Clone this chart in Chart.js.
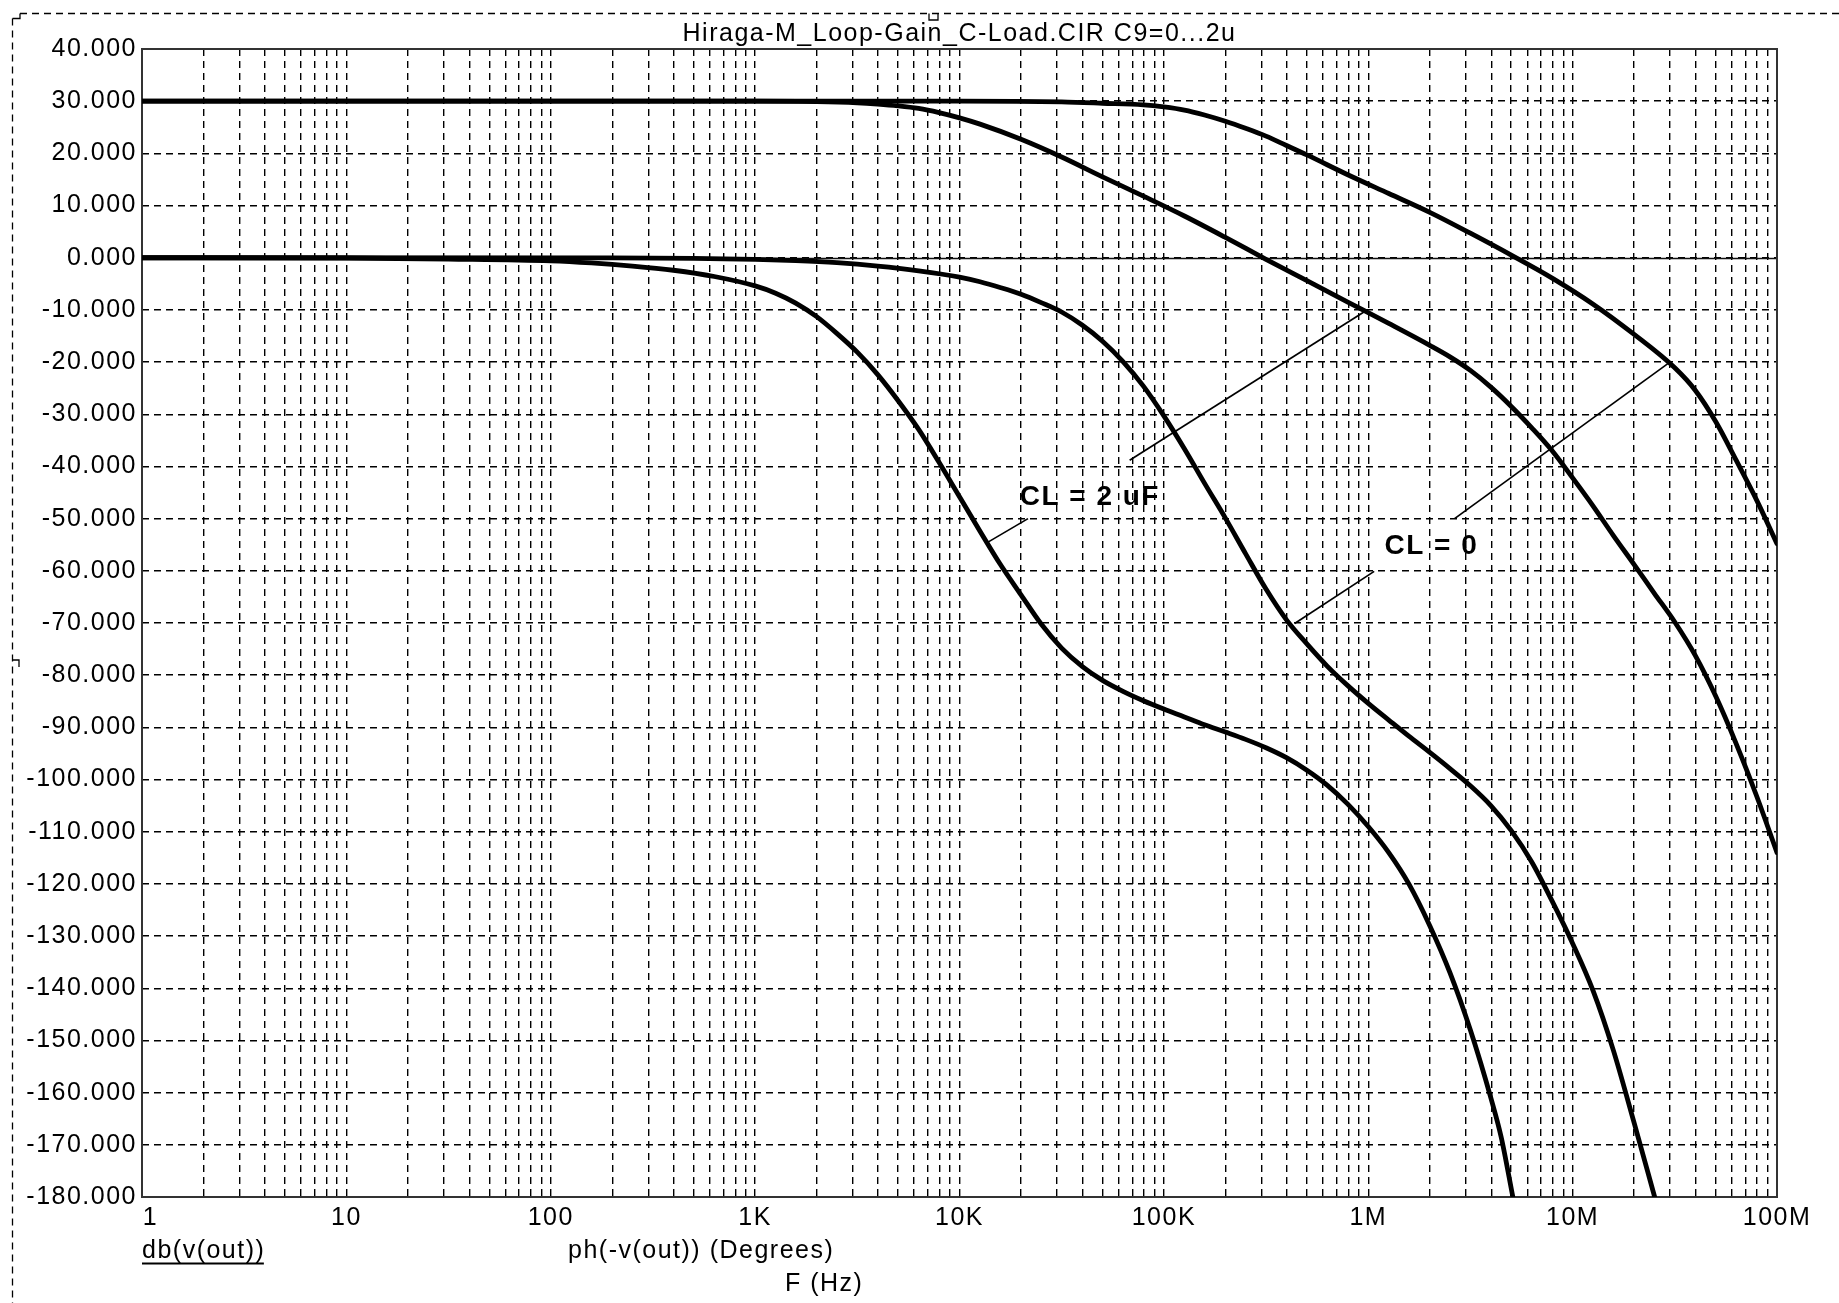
<!DOCTYPE html>
<html><head><meta charset="utf-8">
<script src="https://cdn.jsdelivr.net/npm/chart.js@4.4.1/dist/chart.umd.min.js"></script>
<style>html,body{margin:0;padding:0;background:#fff;overflow:hidden}canvas{display:block}</style>
</head><body>
<canvas id="c" width="1839" height="1303"></canvas>
<script>
// ---------- texts ----------
const chartTitle = 'Hiraga-M_Loop-Gain_C-Load.CIR C9=0...2u';
const xTickLabels = ['1','10','100','1K','10K','100K','1M','10M','100M'];
const traceNames = ['db(v(out))', 'ph(-v(out)) (Degrees)'];
const xAxisTitle = 'F (Hz)';

// ---------- data (F in Hz, values in dB / degrees) ----------
const gainCL0Freq = [1, 1e4, 3.16e4, 5.01e4, 7.94e4, 1e5, 1.26e5, 1.58e5, 2e5, 2.51e5, 3.16e5, 3.98e5, 5.01e5, 7.94e5, 1.26e6, 2e6, 3.16e6, 5.01e6, 7.94e6, 1.26e7, 2e7, 3.16e7, 3.98e7, 5.01e7, 6.31e7, 7.94e7, 1e8];
const gainCL0Db   = [30, 30, 29.85, 29.6, 29.3, 28.9, 28.3, 27.35, 26.15, 24.8, 23.3, 21.5, 19.7, 15.9, 12.3, 8.7, 4.7, 0.5, -3.9, -8.9, -14.7, -21.1, -25.4, -31.4, -38.8, -46.4, -54.8];

const gainCL2uFreq = [1, 1e3, 2e3, 3.16e3, 3.98e3, 5.01e3, 6.31e3, 7.94e3, 1e4, 1.26e4, 2e4, 3.16e4, 5.01e4, 7.94e4, 1.26e5, 2e5, 3.16e5, 5.01e5, 7.94e5, 1.26e6, 2e6, 2.51e6, 3.16e6, 3.98e6, 5.01e6, 6.31e6, 7.94e6, 1e7, 1.26e7, 1.58e7, 2e7, 2.51e7, 3.16e7, 3.98e7, 5.01e7, 6.31e7, 7.94e7, 1e8];
const gainCL2uDb   = [30, 30, 29.93, 29.7, 29.45, 29.1, 28.6, 27.8, 26.8, 25.6, 22.7, 19.3, 15.5, 11.8, 8.0, 3.9, -0.3, -4.4, -8.5, -12.6, -16.8, -19.0, -21.6, -24.8, -28.5, -32.6, -37.0, -42.2, -47.6, -53.2, -58.8, -64.3, -69.8, -76.2, -84.0, -93.1, -103.1, -114.0];

const phaseCL0Freq = [1, 200, 501, 1e3, 1.58e3, 2.51e3, 3.98e3, 6.31e3, 1e4, 1.26e4, 1.58e4, 2e4, 2.51e4, 3.16e4, 3.98e4, 5.01e4, 6.31e4, 7.94e4, 1e5, 1.26e5, 1.58e5, 2e5, 2.51e5, 3.16e5, 3.98e5, 5.01e5, 6.31e5, 7.94e5, 1e6, 1.26e6, 1.58e6, 2e6, 2.51e6, 3.16e6, 3.98e6, 5.01e6, 6.31e6, 7.94e6, 1e7, 1.26e7, 1.58e7, 2e7, 2.52e7];
const phaseCL0Deg  = [0, -0.03, -0.12, -0.3, -0.55, -0.95, -1.6, -2.5, -3.7, -4.6, -5.7, -7.0, -8.6, -10.4, -12.9, -16.0, -19.9, -24.6, -30.3, -36.6, -43.2, -49.9, -56.7, -63.5, -69.4, -74.0, -78.3, -82.0, -85.4, -88.6, -91.7, -94.8, -97.9, -101.2, -105.0, -109.8, -115.8, -123.3, -131.4, -140.5, -151.8, -165.8, -180];

const phaseCL2uFreq = [1, 10, 31.6, 100, 158, 251, 398, 631, 1e3, 1.26e3, 1.58e3, 2e3, 2.51e3, 3.16e3, 3.98e3, 5.01e3, 6.31e3, 7.94e3, 1e4, 1.26e4, 1.58e4, 2e4, 2.51e4, 3.16e4, 3.98e4, 5.01e4, 6.31e4, 7.94e4, 1e5, 1.26e5, 1.58e5, 2e5, 2.51e5, 3.16e5, 3.98e5, 5.01e5, 6.31e5, 7.94e5, 1e6, 1.26e6, 1.58e6, 2e6, 2.51e6, 3.16e6, 3.98e6, 4.47e6, 5.1e6];
const phaseCL2uDeg  = [0, -0.05, -0.25, -0.6, -1.0, -1.6, -2.4, -3.6, -5.4, -6.8, -8.7, -11.3, -14.5, -18.1, -22.4, -27.4, -32.9, -39.2, -45.8, -52.4, -58.7, -64.6, -70.2, -74.8, -78.3, -81.0, -83.1, -84.9, -86.5, -88.0, -89.5, -90.9, -92.3, -93.9, -95.8, -98.2, -101.1, -104.7, -109.0, -114.0, -120.0, -128.0, -137.0, -148.0, -161.0, -168.5, -180];

// ---------- annotations (data coordinates) ----------
const noteTexts = ['CL = 2 uF', 'CL = 0'];
const noteAnchors = [[1.97e4, -46.0], [1.2e6, -55.3]];
const leaderStarts = [[6.80e4, -38.8], [2.164e4, -50.0], [2.645e6, -50.0], [1.069e6, -60.1]];
const leaderEnds   = [[9.78e5, -10.1], [1.379e4, -54.5], [2.924e7, -20.3], [4.363e5, -70.1]];

// ---------- axis values ----------
const yMin = -180, yMax = 40, yStep = 10;
const xGridValues = [];
for (let d = 0; d < 8; d++) for (let k = 1; k <= 9; k++) xGridValues.push(k * Math.pow(10, d));
xGridValues.push(1e8);

const FONT = "Arial, 'Liberation Sans', sans-serif";
const LS = '1.5px';

function pts(f, v) { return f.map((x, i) => ({x: x, y: v[i]})); }
function ds(label, f, v) {
  return {label, data: pts(f, v), borderColor: '#000', borderWidth: 4.8, pointRadius: 0,
          cubicInterpolationMode: 'monotone', fill: false, borderJoinStyle: 'round', borderCapStyle: 'round'};
}

const spacingPlugin = {
  id: 'spacing',
  beforeLayout(chart) { chart.ctx.letterSpacing = LS; },
  beforeDraw(chart) { chart.ctx.letterSpacing = LS; }
};

const framePlugin = {
  id: 'frame',
  beforeDatasetsDraw(chart) {
    const {ctx, chartArea: a, scales: {y}} = chart;
    ctx.save();
    ctx.setLineDash([]);
    const y0 = Math.round(y.getPixelForValue(0)) + 0.5;
    ctx.strokeStyle = '#111'; ctx.lineWidth = 1.6;
    ctx.beginPath(); ctx.moveTo(a.left, y0); ctx.lineTo(a.right, y0); ctx.stroke();
    ctx.strokeStyle = '#333'; ctx.lineWidth = 2;
    ctx.strokeRect(a.left, a.top, a.right - a.left, a.bottom - a.top);
    ctx.restore();
  },
  afterDatasetsDraw(chart) {
    const {ctx, scales: {x, y}} = chart;
    ctx.save();
    ctx.setLineDash([]);
    ctx.strokeStyle = '#000'; ctx.lineWidth = 1.7;
    for (let i = 0; i < leaderStarts.length; i++) {
      ctx.beginPath();
      ctx.moveTo(x.getPixelForValue(leaderStarts[i][0]), y.getPixelForValue(leaderStarts[i][1]));
      ctx.lineTo(x.getPixelForValue(leaderEnds[i][0]), y.getPixelForValue(leaderEnds[i][1]));
      ctx.stroke();
    }
    ctx.letterSpacing = LS;
    ctx.fillStyle = '#000';
    ctx.font = 'bold 28px ' + FONT;
    ctx.textAlign = 'left'; ctx.textBaseline = 'middle';
    for (let i = 0; i < noteTexts.length; i++) {
      ctx.fillText(noteTexts[i], x.getPixelForValue(noteAnchors[i][0]), y.getPixelForValue(noteAnchors[i][1]));
    }
    ctx.restore();
  },
  afterDraw(chart) {
    const {ctx, chartArea: a} = chart;
    ctx.save();
    ctx.letterSpacing = LS;
    ctx.fillStyle = '#000';
    ctx.font = '25px ' + FONT;
    ctx.textAlign = 'left'; ctx.textBaseline = 'middle';
    const ty = a.bottom + 54.5;
    ctx.fillText(traceNames[0], a.left, ty);
    const w = ctx.measureText(traceNames[0]).width;
    ctx.fillRect(a.left, ty + 11, w - 1.5, 2);
    ctx.fillText(traceNames[1], a.left + 426, ty);
    ctx.fillText(xAxisTitle, a.left + 643, a.bottom + 87.5);
    // outer dashed frame
    ctx.strokeStyle = '#000'; ctx.lineWidth = 1.3;
    ctx.setLineDash([7, 5]);
    ctx.beginPath(); ctx.moveTo(20, 13.5); ctx.lineTo(1839, 13.5); ctx.stroke();
    ctx.beginPath(); ctx.moveTo(12.5, 18.5); ctx.lineTo(12.5, 1303); ctx.stroke();
    ctx.setLineDash([]);
    ctx.beginPath(); ctx.moveTo(12.5, 18.5); ctx.lineTo(20, 18.5); ctx.lineTo(20, 13.5); ctx.stroke();
    ctx.beginPath(); ctx.moveTo(929, 13.5); ctx.lineTo(929, 20); ctx.lineTo(938, 20); ctx.lineTo(938, 13.5); ctx.stroke();
    ctx.beginPath(); ctx.moveTo(12.5, 660); ctx.lineTo(19, 660); ctx.lineTo(19, 667); ctx.stroke();
    ctx.restore();
  }
};

new Chart(document.getElementById('c'), {
  type: 'line',
  data: {
    datasets: [
      ds('gain CL=0', gainCL0Freq, gainCL0Db),
      ds('gain CL=2u', gainCL2uFreq, gainCL2uDb),
      ds('phase CL=0', phaseCL0Freq, phaseCL0Deg),
      ds('phase CL=2u', phaseCL2uFreq, phaseCL2uDeg)
    ]
  },
  options: {
    responsive: false, animation: false, devicePixelRatio: 1,
    layout: {padding: {left: 0, right: 62, top: 0, bottom: 0}},
    plugins: {
      legend: {display: false},
      tooltip: {enabled: false},
      title: {display: true, text: chartTitle, fullSize: false, color: '#000',
              font: {family: FONT, size: 25, weight: 'normal'}, padding: {top: 19, bottom: 0}}
    },
    scales: {
      x: {
        type: 'logarithmic', min: 1, max: 1e8,
        afterBuildTicks(scale) { scale.ticks = xGridValues.map(v => ({value: v})); },
        afterFit(scale) { scale.height = 106; },
        ticks: {
          autoSkip: false, maxRotation: 0, minRotation: 0, padding: 6, color: '#000',
          font: {family: FONT, size: 25},
          callback(value) {
            const l = Math.log10(value), i = Math.round(l);
            if (Math.abs(l - i) > 1e-9) return '';
            return i === 0 ? '  ' + xTickLabels[0] : xTickLabels[i];
          }
        },
        grid: {color: '#000', lineWidth: 1.4, drawTicks: false},
        border: {display: false, dash: [7, 5]}
      },
      y: {
        min: yMin, max: yMax,
        afterFit(scale) { scale.width = 142; },
        ticks: {stepSize: yStep, autoSkip: false, padding: 5, color: '#000',
                font: {family: FONT, size: 25}, callback: v => Number(v).toFixed(3)},
        grid: {color: '#000', lineWidth: 1.4, drawTicks: false},
        border: {display: false, dash: [7, 5]}
      }
    }
  },
  plugins: [spacingPlugin, framePlugin]
});
</script>
</body></html>
